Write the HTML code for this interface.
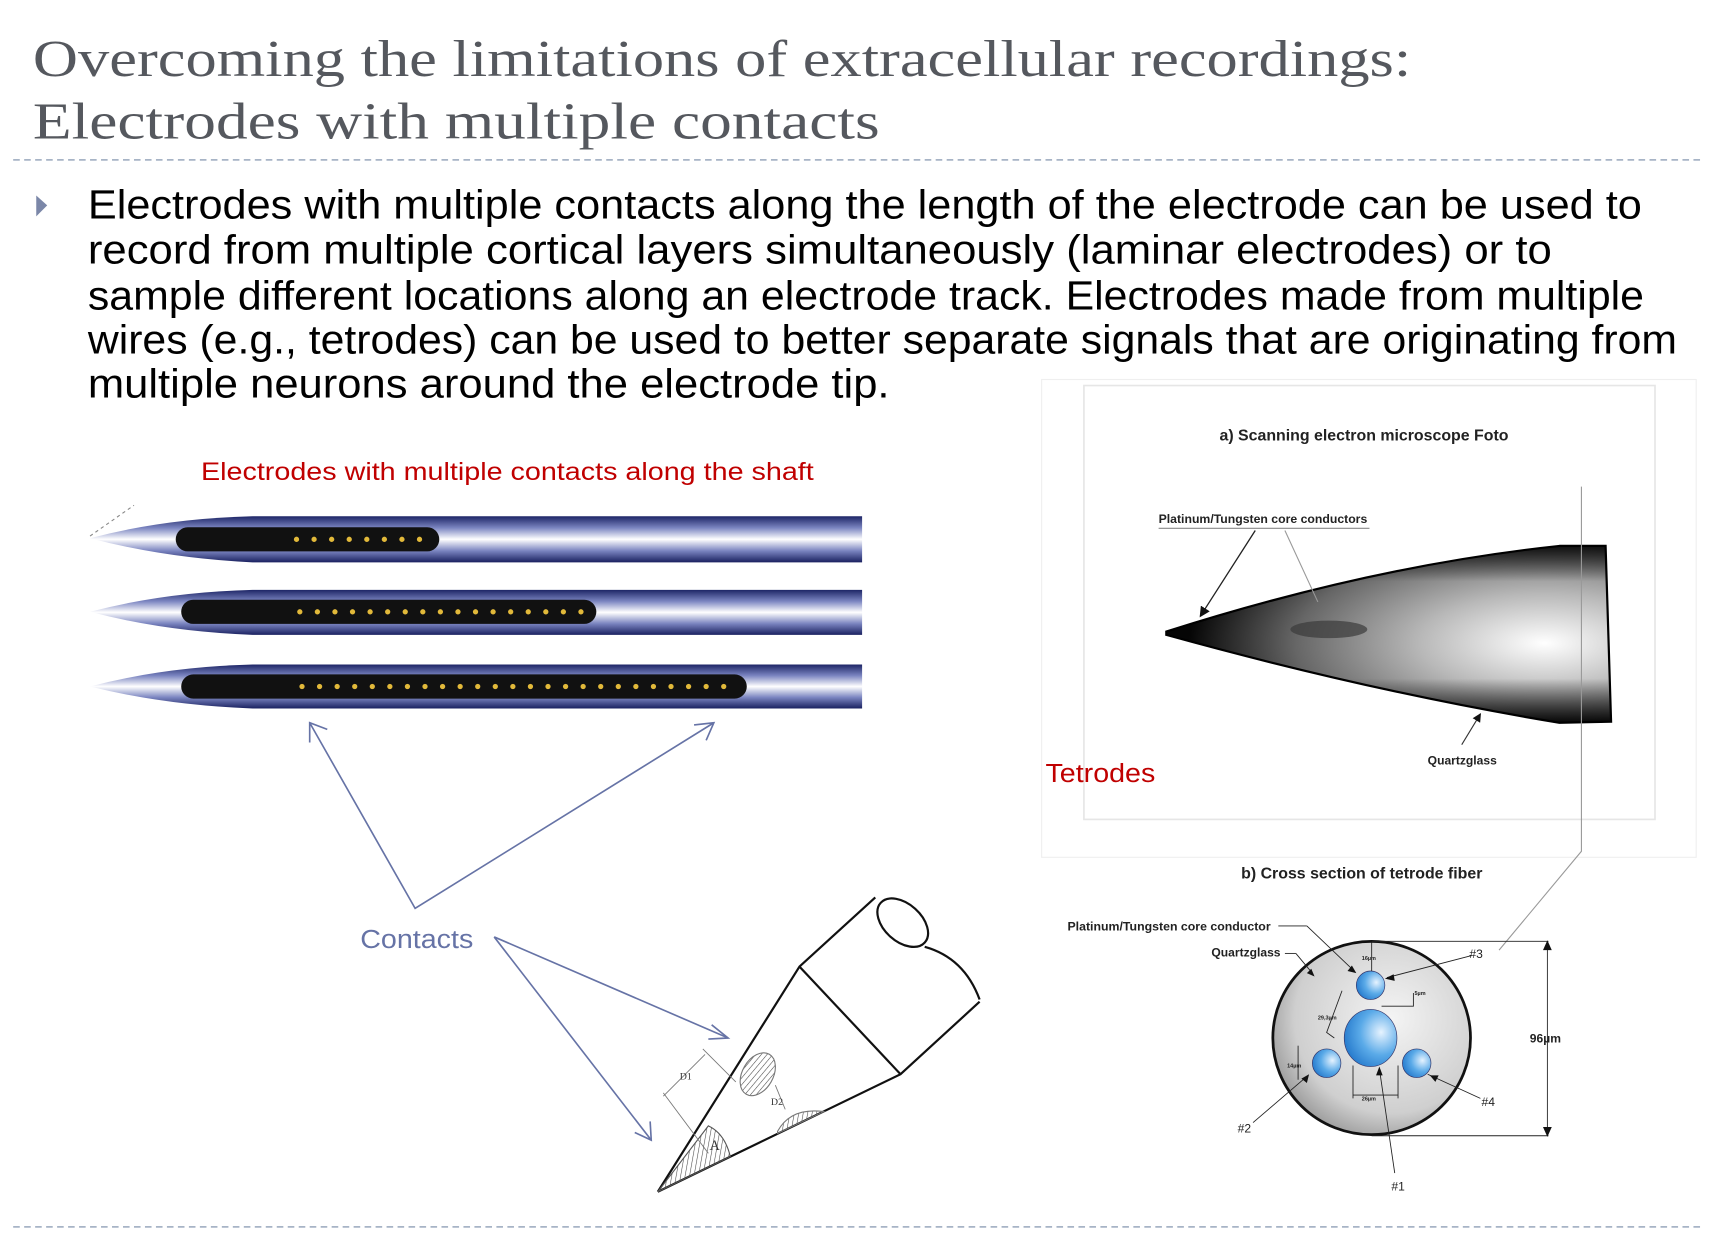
<!DOCTYPE html>
<html><head><meta charset="utf-8"><style>html,body{margin:0;padding:0;background:#fff}svg{display:block}</style></head>
<body>
<svg width="1722" height="1239" viewBox="0 0 1568 1128" preserveAspectRatio="none" xmlns="http://www.w3.org/2000/svg">
<defs>
<linearGradient id="rod" x1="0" y1="0" x2="0" y2="1">
<stop offset="0" stop-color="#1d2566"/><stop offset="0.25" stop-color="#7a84c0"/><stop offset="0.5" stop-color="#ffffff"/><stop offset="0.75" stop-color="#7a84c0"/><stop offset="1" stop-color="#1a2160"/>
</linearGradient>
<radialGradient id="sem" cx="0.85" cy="0.55" r="0.8">
<stop offset="0" stop-color="#ffffff"/><stop offset="0.35" stop-color="#b8b8b8"/><stop offset="0.7" stop-color="#666"/><stop offset="1" stop-color="#050505"/>
</radialGradient>
<linearGradient id="semE" x1="0" y1="0" x2="0" y2="1">
<stop offset="0" stop-color="#000" stop-opacity="0.85"/><stop offset="0.2" stop-color="#000" stop-opacity="0"/><stop offset="0.75" stop-color="#000" stop-opacity="0"/><stop offset="1" stop-color="#000" stop-opacity="0.95"/>
</linearGradient>
<radialGradient id="fib" cx="0.6" cy="0.4" r="0.7">
<stop offset="0" stop-color="#f4f4f4"/><stop offset="0.7" stop-color="#cfcfcf"/><stop offset="1" stop-color="#8a8a8a"/>
</radialGradient>
<radialGradient id="blu" cx="0.7" cy="0.4" r="0.8">
<stop offset="0" stop-color="#e6f3ff"/><stop offset="0.5" stop-color="#5aaae8"/><stop offset="1" stop-color="#1a6fc6"/>
</radialGradient>
<pattern id="hatch" width="4" height="4" patternUnits="userSpaceOnUse" patternTransform="rotate(10)"><line x1="0" y1="0" x2="0" y2="4" stroke="#444" stroke-width="1"/></pattern>
<marker id="ab" markerWidth="8" markerHeight="8" refX="7" refY="4" orient="auto"><path d="M0,0 L8,4 L0,8 Z" fill="#111"/></marker>
</defs>

<g font-family="Liberation Serif, serif" fill="#55585e" font-size="47">
<text x="30" y="69" textLength="1255" lengthAdjust="spacingAndGlyphs">Overcoming the limitations of extracellular recordings:</text>
<text x="30" y="126" textLength="771" lengthAdjust="spacingAndGlyphs">Electrodes with multiple contacts</text>
</g>
<line x1="12" y1="145.5" x2="1548" y2="145.5" stroke="#a7b4c6" stroke-width="1.6" stroke-dasharray="6,4"/>
<line x1="12" y1="1117" x2="1548" y2="1117" stroke="#a7b4c6" stroke-width="1.6" stroke-dasharray="6,4"/>

<path d="M33,178 L43,187 L33,197 Z" fill="#7b87a8"/>
<g font-family="Liberation Sans, sans-serif" fill="#000" font-size="37">
<text x="80" y="199" textLength="1415" lengthAdjust="spacingAndGlyphs">Electrodes with multiple contacts along the length of the electrode can be used to</text>
<text x="80" y="240" textLength="1333" lengthAdjust="spacingAndGlyphs">record from multiple cortical layers simultaneously (laminar electrodes) or to</text>
<text x="80" y="282" textLength="1417" lengthAdjust="spacingAndGlyphs">sample different locations along an electrode track. Electrodes made from multiple</text>
<text x="80" y="322" textLength="1447" lengthAdjust="spacingAndGlyphs">wires (e.g., tetrodes) can be used to better separate signals that are originating from</text>
<text x="80" y="362" textLength="730" lengthAdjust="spacingAndGlyphs">multiple neurons around the electrode tip.</text>
</g>

<rect x="948.5" y="345.5" width="596" height="435" fill="#fff" stroke="#efefef" stroke-width="1"/>
<rect x="987" y="351" width="520" height="395" fill="#fff" stroke="#e6e6e6" stroke-width="1.5"/>
<text x="1242" y="401" font-family="Liberation Sans, sans-serif" font-weight="bold" font-size="14.5" fill="#222" text-anchor="middle">a) Scanning electron microscope Foto</text>

<path d="M1062,575 Q1250,515 1420,497 L1462,497 L1467,657 L1420,658 Q1250,630 1062,578 Z" fill="url(#sem)"/>
<path d="M1062,575 Q1250,515 1420,497 L1462,497 L1467,657 L1420,658 Q1250,630 1062,578 Z" fill="url(#semE)"/>
<path d="M1062,575 Q1250,515 1420,497 L1462,497 L1467,657 L1420,658 Q1250,630 1062,578 Z" fill="none" stroke="#000" stroke-width="2"/>
<ellipse cx="1210" cy="573" rx="35" ry="8" fill="#3a3a3a" opacity="0.7"/>
<text x="1055" y="476" font-family="Liberation Sans, sans-serif" font-weight="bold" font-size="11" fill="#222" textLength="190" lengthAdjust="spacingAndGlyphs">Platinum/Tungsten core conductors</text>
<line x1="1055" y1="481" x2="1247" y2="481" stroke="#888" stroke-width="1"/>
<line x1="1143" y1="483" x2="1093" y2="561" stroke="#222" stroke-width="1.2" marker-end="url(#ab)"/>
<line x1="1170" y1="483" x2="1200" y2="548" stroke="#999" stroke-width="1"/>
<line x1="1331" y1="678" x2="1348" y2="650" stroke="#333" stroke-width="1" marker-end="url(#ab)"/>
<text x="1300" y="696" font-family="Liberation Sans, sans-serif" font-weight="bold" font-size="11" fill="#222">Quartzglass</text>
<polyline points="1440,443 1440,775 1365,865" fill="none" stroke="#999" stroke-width="1"/>
<text x="952" y="712" font-family="Liberation Sans, sans-serif" font-size="24" fill="#c00000" textLength="100" lengthAdjust="spacingAndGlyphs">Tetrodes</text>

<text x="1240" y="800" font-family="Liberation Sans, sans-serif" font-weight="bold" font-size="14.5" fill="#222" text-anchor="middle">b) Cross section of tetrode fiber</text>
<ellipse cx="1249" cy="945" rx="90" ry="88" fill="url(#fib)" stroke="#111" stroke-width="2.5"/>
<ellipse cx="1248" cy="897" rx="13" ry="13" fill="url(#blu)" stroke="#336" stroke-width="0.6"/>
<ellipse cx="1248" cy="945" rx="24" ry="26" fill="url(#blu)" stroke="#336" stroke-width="0.6"/>
<ellipse cx="1208" cy="968" rx="13" ry="13" fill="url(#blu)" stroke="#336" stroke-width="0.6"/>
<ellipse cx="1290" cy="968" rx="13" ry="13" fill="url(#blu)" stroke="#336" stroke-width="0.6"/>
<g stroke="#222" stroke-width="0.8" fill="none">
<line x1="1249" y1="857" x2="1410" y2="857"/><line x1="1249" y1="1034" x2="1410" y2="1034"/>
<line x1="1409" y1="860" x2="1409" y2="1031"/>
<line x1="1164" y1="843" x2="1190" y2="843"/><line x1="1190" y1="843" x2="1233" y2="884"/>
<line x1="1170" y1="868" x2="1180" y2="868"/><line x1="1180" y1="868" x2="1195" y2="886"/>
<line x1="1340" y1="870" x2="1263" y2="890"/>
<line x1="1348" y1="1000" x2="1300" y2="978"/>
<line x1="1141" y1="1022" x2="1190" y2="980"/>
<line x1="1270" y1="1068" x2="1256" y2="973"/>
<line x1="1232" y1="1000" x2="1232" y2="970"/><line x1="1273" y1="1000" x2="1273" y2="970"/><line x1="1232" y1="997" x2="1273" y2="997"/>
<polyline points="1222,902 1208,940 1215,945"/>
<line x1="1182" y1="952" x2="1182" y2="983"/>
<line x1="1249" y1="858" x2="1249" y2="884"/>
<polyline points="1258,916 1287,916 1287,904"/>
</g>
<g fill="#111">
<path d="M1409,856 l-4,9 h8 Z"/><path d="M1409,1035 l-4,-9 h8 Z"/>
<path d="M1235,886 l-8,-2 l4,-5 Z"/><path d="M1197,889 l-7,-3 l4,-4 Z"/><path d="M1261,891 l8,-4 l1,6 Z"/>
<path d="M1302,979 l8,0 l-3,6 Z"/><path d="M1192,978 l-2,8 l-5,-4 Z"/><path d="M1256,971 l-3,8 h6 Z"/>
</g>
<g font-family="Liberation Sans, sans-serif" font-size="11" fill="#222">
<text x="1157" y="847" text-anchor="end" font-weight="bold" textLength="185" lengthAdjust="spacingAndGlyphs">Platinum/Tungsten core conductor</text>
<text x="1166" y="871" text-anchor="end" font-weight="bold">Quartzglass</text>
<text x="1338" y="872">#3</text><text x="1349" y="1007">#4</text><text x="1127" y="1031">#2</text><text x="1267" y="1084">#1</text>
<text x="1393" y="949" font-weight="bold">96µm</text>
<text x="1240" y="874" font-size="5" font-weight="bold">16µm</text><text x="1288" y="906" font-size="5" font-weight="bold">5µm</text>
<text x="1200" y="928" font-size="5" font-weight="bold">29,3µm</text><text x="1172" y="972" font-size="5" font-weight="bold">14µm</text><text x="1240" y="1002" font-size="5" font-weight="bold">26µm</text>
</g>

<text x="462" y="437" font-family="Liberation Sans, sans-serif" font-size="23" fill="#c00000" text-anchor="middle" textLength="558" lengthAdjust="spacingAndGlyphs">Electrodes with multiple contacts along the shaft</text>

<g>
<path d="M82,490 Q150,472 230,470 L785,470 L785,512 L230,512 Q150,508 82,490 Z" fill="url(#rod)"/>
<rect x="160" y="480" width="240" height="22" rx="11" fill="#111"/>
<path d="M82,557 Q150,539 230,537 L785,537 L785,578 L230,578 Q150,575 82,557 Z" fill="url(#rod)"/>
<rect x="165" y="546" width="378" height="22" rx="11" fill="#111"/>
<path d="M82,625 Q150,607 230,605 L785,605 L785,645 L230,645 Q150,642 82,625 Z" fill="url(#rod)"/>
<rect x="165" y="614" width="515" height="22" rx="11" fill="#111"/>
<line x1="82" y1="488" x2="122" y2="460" stroke="#888" stroke-width="1" stroke-dasharray="3,3"/>
<g fill="#e2b93a">
<circle cx="270" cy="491" r="2.4"/><circle cx="286" cy="491" r="2.4"/><circle cx="302" cy="491" r="2.4"/><circle cx="318" cy="491" r="2.4"/><circle cx="334" cy="491" r="2.4"/><circle cx="350" cy="491" r="2.4"/><circle cx="366" cy="491" r="2.4"/><circle cx="382" cy="491" r="2.4"/>
<circle cx="273" cy="557" r="2.4"/><circle cx="289" cy="557" r="2.4"/><circle cx="305" cy="557" r="2.4"/><circle cx="321" cy="557" r="2.4"/><circle cx="337" cy="557" r="2.4"/><circle cx="353" cy="557" r="2.4"/><circle cx="369" cy="557" r="2.4"/><circle cx="385" cy="557" r="2.4"/><circle cx="401" cy="557" r="2.4"/><circle cx="417" cy="557" r="2.4"/><circle cx="433" cy="557" r="2.4"/><circle cx="449" cy="557" r="2.4"/><circle cx="465" cy="557" r="2.4"/><circle cx="481" cy="557" r="2.4"/><circle cx="497" cy="557" r="2.4"/><circle cx="513" cy="557" r="2.4"/><circle cx="529" cy="557" r="2.4"/>
<circle cx="275" cy="625" r="2.4"/><circle cx="291" cy="625" r="2.4"/><circle cx="307" cy="625" r="2.4"/><circle cx="323" cy="625" r="2.4"/><circle cx="339" cy="625" r="2.4"/><circle cx="355" cy="625" r="2.4"/><circle cx="371" cy="625" r="2.4"/><circle cx="387" cy="625" r="2.4"/><circle cx="403" cy="625" r="2.4"/><circle cx="419" cy="625" r="2.4"/><circle cx="435" cy="625" r="2.4"/><circle cx="451" cy="625" r="2.4"/><circle cx="467" cy="625" r="2.4"/><circle cx="483" cy="625" r="2.4"/><circle cx="499" cy="625" r="2.4"/><circle cx="515" cy="625" r="2.4"/><circle cx="531" cy="625" r="2.4"/><circle cx="547" cy="625" r="2.4"/><circle cx="563" cy="625" r="2.4"/><circle cx="579" cy="625" r="2.4"/><circle cx="595" cy="625" r="2.4"/><circle cx="611" cy="625" r="2.4"/><circle cx="627" cy="625" r="2.4"/><circle cx="643" cy="625" r="2.4"/><circle cx="659" cy="625" r="2.4"/>
</g>
</g>

<g stroke="#6673a6" stroke-width="1.5" fill="none">
<polyline points="282,658 378,827 650,658"/>
<polyline points="282,676 282,658 298,664"/>
<polyline points="632,660 650,658 643,674"/>
<line x1="450" y1="853" x2="663" y2="945"/><polyline points="648,933 663,945 645,946"/>
<line x1="450" y1="853" x2="593" y2="1038"/><polyline points="592,1021 593,1038 578,1031"/>
</g>
<text x="328" y="863" font-family="Liberation Sans, sans-serif" font-size="24" fill="#6673a6" textLength="103" lengthAdjust="spacingAndGlyphs">Contacts</text>

<g stroke="#111" stroke-width="2" fill="none">
<path d="M599,1085 L728,880 L797,817"/>
<path d="M599,1085 L820,978 L892,912"/>
<line x1="728" y1="880" x2="820" y2="978"/>
<ellipse cx="822" cy="840" rx="27" ry="17" transform="rotate(42 822 840)"/>
<path d="M842,862 Q878,872 892,910"/>
</g>
<path d="M599,1085 L645,1025 Q660,1032 665,1053 Z" fill="url(#hatch)" stroke="#555" stroke-width="1"/>
<ellipse cx="690" cy="978" rx="14" ry="21" transform="rotate(30 690 978)" fill="url(#hatch)" stroke="#777" stroke-width="1"/>
<path d="M708,1030 Q720,1008 750,1012 L708,1032 Z" fill="url(#hatch)" stroke="#777" stroke-width="1"/>
<g stroke="#777" stroke-width="0.8" fill="none">
<polyline points="604,995 645,1050"/><polyline points="640,955 670,985"/><line x1="604" y1="998" x2="642" y2="960"/>
<line x1="706" y1="988" x2="715" y2="1010"/>
</g>
<text x="619" y="983" font-family="Liberation Serif, serif" font-size="9" fill="#333">D1</text>
<text x="702" y="1006" font-family="Liberation Serif, serif" font-size="9" fill="#333">D2</text>
<text x="646" y="1047" font-family="Liberation Serif, serif" font-size="13" fill="#333">A</text>
</svg>
</body></html>
